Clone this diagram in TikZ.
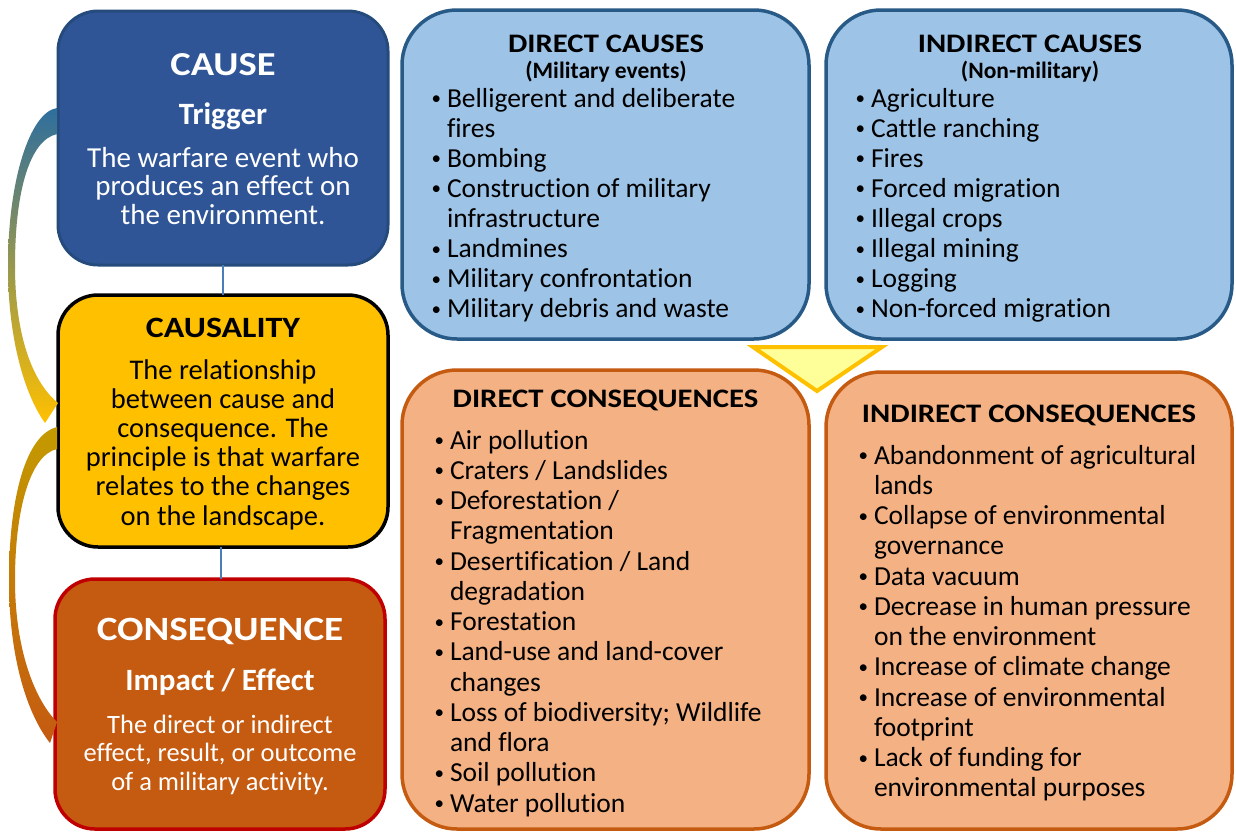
\documentclass[tikz,border=0pt]{standalone}
\usepackage{fontspec}
\setmainfont{Carlito}[Ligatures={NoCommon,NoContextual},Contextuals=NoAlternate]
\newfontfamily\titlefont[FakeStretch=1.15,Ligatures={NoCommon,NoContextual},Contextuals=NoAlternate]{Carlito}
\usetikzlibrary{backgrounds}
\definecolor{causeblue}{HTML}{2F5597}
\definecolor{causeedge}{HTML}{254B7C}
\definecolor{lightblue}{HTML}{9DC3E6}
\definecolor{boxedge}{HTML}{285A88}
\definecolor{darkblue}{HTML}{1F4E79}
\definecolor{gold}{HTML}{FFC000}
\definecolor{rust}{HTML}{C55A11}
\definecolor{crimson}{HTML}{C00000}
\definecolor{peach}{HTML}{F4B183}
\definecolor{paleyellow}{HTML}{FFFF99}
\definecolor{steel}{HTML}{4A7EBB}
\definecolor{swblue}{HTML}{2E6E9E}
\definecolor{swgray}{HTML}{A8A8A8}
\definecolor{swgold}{HTML}{C49A00}
\newcommand\setfs[2]{\fontsize{#1pt}{#2pt}\selectfont}
\newcommand\bul{\llap{\raisebox{2.5pt}{\fontsize{19pt}{19pt}\selectfont\textbullet}\hspace{6pt}}}
\begin{document}
\begin{tikzpicture}[x=1pt,y=-1pt,
  leftbox/.style={rounded corners=40pt, line width=3pt, inner sep=0pt, outer sep=0pt, minimum width=330pt},
  rightbox/.style={rounded corners=55pt, line width=3.5pt, inner sep=0pt, outer sep=0pt},
  txt/.style={inner sep=0pt, outer sep=0pt},
  bluebar/.style={draw=darkblue, line width=33pt},
  orangebar/.style={draw=rust, line width=35pt},
  thinline/.style={draw=steel, line width=1.5pt},
  tri/.style={fill=paleyellow, draw=gold, line width=4pt}
]
\useasboundingbox (0,0) rectangle (1236,833);
\fill[white] (0,0) rectangle (1236,833);

% boxes
\node[leftbox, fill=causeblue, draw=causeedge, minimum height=254pt] (cause) at (223,138) {};
\node[leftbox, fill=gold, draw=black, line width=3.5pt, minimum height=252pt] (causality) at (223,421) {};
\node[leftbox, fill=rust, draw=crimson, line width=3.5pt, minimum height=250pt] (conseq) at (220,704) {};
\node[rightbox, fill=lightblue, draw=boxedge, minimum width=407pt, minimum height=329pt] (dcause) at (605.5,174.5) {};
\node[rightbox, fill=lightblue, draw=boxedge, minimum width=406pt, minimum height=329pt] (icause) at (1029,174.5) {};
\node[rightbox, fill=peach, draw=rust, minimum width=407pt, minimum height=459pt] (dcons) at (605.5,599.5) {};
\node[rightbox, fill=peach, draw=rust, minimum width=406pt, minimum height=457pt] (icons) at (1029,600.5) {};

% connector bars behind boxes
\coordinate (b1) at (600,162.5);
\coordinate (b2) at (600,697.5);
\begin{pgfonlayer}{background}
\draw[bluebar] (cause.center |- b1) -- (dcause.center |- b1);
\draw[bluebar] (dcause.center |- b1) -- (icause.center |- b1);
\draw[orangebar] (conseq.center |- b2) -- (dcons.center |- b2);
\draw[orangebar] (dcons.center |- b2) -- (icons.center |- b2);
\end{pgfonlayer}

% thin vertical links
\draw[thinline] (cause.south) -- (causality.north);
\draw[thinline] ([xshift=1pt]conseq.north |- causality.south) -- ([xshift=1pt]conseq.north);

% triangle
\filldraw[tri] (753,347) -- (882,347) -- (817,391) -- cycle;

% swooshes
\shade[top color=swblue, middle color=swgray, bottom color=gold]
  (57,108) .. controls (30,112) and (8,180) .. (8,266)
  .. controls (8,340) and (25,395) .. (45,423) -- (58,403)
  .. controls (30,380) and (15,330) .. (15,266)
  .. controls (15,190) and (30,140) .. (57,134) -- cycle;
\shade[top color=swgold, middle color=gold, bottom color=rust]
  (57,427) .. controls (25,435) and (9,500) .. (9,580)
  .. controls (9,660) and (28,715) .. (50,743) -- (57,722)
  .. controls (35,700) and (15,650) .. (15,580)
  .. controls (15,510) and (30,455) .. (57,449) -- cycle;

% CAUSE texts
\node[txt, anchor=base, text=white] (causeT) at (223,75) {\titlefont\bfseries\setfs{33.5}{36}CAUSE};
\node[txt, anchor=base, text=white] (trig) at (223,124) {\bfseries\setfs{31}{34}Trigger};
\node[txt, anchor=base, text=white] (causeB) at (223,167) {\setfs{29}{28.5}\begin{tabular}[t]{@{}c@{}}The warfare event who\\produces an effect on\\the environment.\end{tabular}};

% CAUSALITY texts
\node[txt, anchor=base] (causalT) at (223,337) {\titlefont\bfseries\setfs{29.5}{32}CAUSALITY};
\node[txt, anchor=base] (causalB) at (223,379) {\setfs{28.5}{29.2}\begin{tabular}[t]{@{}c@{}}The relationship\\between cause and\\consequence. The\\principle is that warfare\\relates to the changes\\on the landscape.\end{tabular}};

% CONSEQUENCE texts
\node[txt, anchor=base, text=white] (consT) at (220,640) {\titlefont\bfseries\setfs{34}{36}CONSEQUENCE};
\node[txt, anchor=base, text=white] (impact) at (220,690) {\bfseries\setfs{31}{34}Impact / Effect};
\node[txt, anchor=base, text=white] (consB) at (220,733) {\setfs{26.5}{28.5}\begin{tabular}[t]{@{}c@{}}The direct or indirect\\effect, result, or outcome\\of a military activity.\end{tabular}};

% DIRECT CAUSES
\node[txt, anchor=base] (dcT) at (606,52) {\titlefont\bfseries\setfs{26.7}{30}DIRECT CAUSES};
\node[txt, anchor=base] (dcS) at (606,78) {\bfseries\setfs{23.5}{26}(Military events)};
\node[txt, anchor=base west] (dcL) at (447,107) {\setfs{27.5}{30.1}\begin{tabular}[t]{@{}l@{}}\bul Belligerent and deliberate\\fires\\\bul Bombing\\\bul Construction of military\\infrastructure\\\bul Landmines\\\bul Military confrontation\\\bul Military debris and waste\end{tabular}};

% INDIRECT CAUSES
\node[txt, anchor=base] (icT) at (1030,52) {\titlefont\bfseries\setfs{26.7}{30}INDIRECT CAUSES};
\node[txt, anchor=base] (icS) at (1030,78) {\bfseries\setfs{23.5}{26}(Non-military)};
\node[txt, anchor=base west] (icL) at (871,107) {\setfs{27.5}{30.1}\begin{tabular}[t]{@{}l@{}}\bul Agriculture\\\bul Cattle ranching\\\bul Fires\\\bul Forced migration\\\bul Illegal crops\\\bul Illegal mining\\\bul Logging\\\bul Non-forced migration\end{tabular}};

% DIRECT CONSEQUENCES
\node[txt, anchor=base] (dnT) at (605.5,407) {\titlefont\bfseries\setfs{26.7}{30}DIRECT CONSEQUENCES};
\node[txt, anchor=base west] (dnL) at (450,449) {\setfs{27.5}{30.25}\begin{tabular}[t]{@{}l@{}}\bul Air pollution\\\bul Craters / Landslides\\\bul Deforestation /\\Fragmentation\\\bul Desertification / Land\\degradation\\\bul Forestation\\\bul Land-use and land-cover\\changes\\\bul Loss of biodiversity; Wildlife\\and flora\\\bul Soil pollution\\\bul Water pollution\end{tabular}};

% INDIRECT CONSEQUENCES
\node[txt, anchor=base] (inT) at (1029,422) {\titlefont\bfseries\setfs{26.7}{30}INDIRECT CONSEQUENCES};
\node[txt, anchor=base west] (inL) at (874,464) {\setfs{27.5}{30.27}\begin{tabular}[t]{@{}l@{}}\bul Abandonment of agricultural\\lands\\\bul Collapse of environmental\\governance\\\bul Data vacuum\\\bul Decrease in human pressure\\on the environment\\\bul Increase of climate change\\\bul Increase of environmental\\footprint\\\bul Lack of funding for\\environmental purposes\end{tabular}};
\end{tikzpicture}
\end{document}
